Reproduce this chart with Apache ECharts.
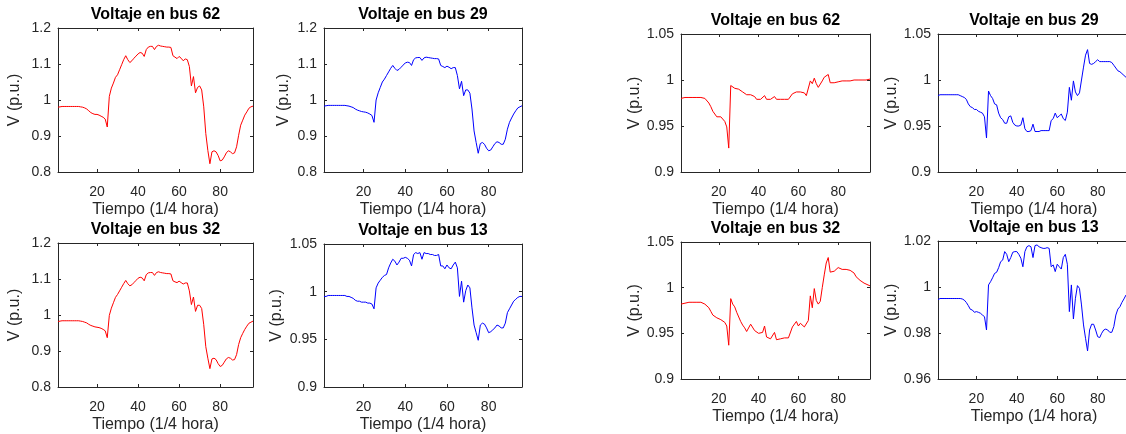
<!DOCTYPE html>
<html>
<head>
<meta charset="utf-8">
<title>Voltaje en buses</title>
<script src="https://cdn.jsdelivr.net/npm/echarts@6/dist/echarts.min.js"></script>
<style>
    html, body { margin: 0; padding: 0; background: #fff; }
    #chart { width: 1126px; height: 434px; }
</style>
</head>
<body>
<div id="chart"></div>
<script>
// eje x: tiempo en cuartos de hora (1..96)
var xTicks = [20, 40, 60, 80];
var yTicksWide = [0.8, 0.9, 1, 1.1, 1.2];
var yTicksMid = [0.9, 0.95, 1, 1.05];
var yTicksNarrow = [0.96, 0.98, 1, 1.02];

// caso izquierdo
var v62a = [0.980, 0.981, 0.982, 0.982, 0.982, 0.982, 0.982, 0.982, 0.982, 0.982, 0.982, 0.981, 0.980, 0.978,
    0.975, 0.970, 0.965, 0.962, 0.960, 0.960, 0.958, 0.955, 0.952, 0.947,
    0.925,
    1.010, 1.033, 1.047, 1.063, 1.070, 1.084, 1.098, 1.112, 1.123, 1.112,
    1.104, 1.109, 1.116, 1.122, 1.128, 1.132, 1.130, 1.121, 1.140, 1.147,
    1.149, 1.149, 1.140, 1.149, 1.152, 1.150, 1.149, 1.148, 1.147, 1.147, 1.146,
    1.123, 1.119, 1.115, 1.121, 1.116, 1.109, 1.114, 1.112, 1.093,
    1.039, 1.065, 1.020, 1.035, 1.039, 1.028, 0.981, 0.907, 0.860, 0.823,
    0.856, 0.859, 0.856, 0.846, 0.831, 0.833, 0.842, 0.853, 0.859, 0.856, 0.851, 0.853,
    0.870, 0.902, 0.930, 0.944, 0.958, 0.967, 0.977, 0.981, 0.983];
var v29a = [0.983, 0.984, 0.985, 0.985, 0.985, 0.985, 0.985, 0.985, 0.985, 0.985, 0.985, 0.984, 0.983, 0.981,
    0.979, 0.975, 0.972, 0.970, 0.968, 0.967, 0.966, 0.964, 0.961, 0.957,
    0.938,
    1.000, 1.020, 1.035, 1.050, 1.058, 1.068, 1.078, 1.088, 1.096, 1.088,
    1.082, 1.085, 1.091, 1.097, 1.103, 1.105, 1.104, 1.096, 1.112, 1.117,
    1.118, 1.118, 1.110, 1.117, 1.119, 1.118, 1.117, 1.116, 1.115, 1.115, 1.114,
    1.096, 1.093, 1.090, 1.094, 1.091, 1.087, 1.090, 1.090, 1.068,
    1.031, 1.052, 1.012, 1.028, 1.028, 1.019, 0.975, 0.914, 0.882, 0.852,
    0.879, 0.882, 0.877, 0.866, 0.859, 0.861, 0.870, 0.879, 0.884, 0.882, 0.877, 0.877,
    0.891, 0.919, 0.938, 0.950, 0.961, 0.970, 0.978, 0.981, 0.984];
var v32a = [0.982, 0.983, 0.984, 0.984, 0.984, 0.984, 0.984, 0.984, 0.984, 0.984, 0.984, 0.983, 0.982, 0.980,
    0.978, 0.974, 0.971, 0.969, 0.967, 0.966, 0.965, 0.963, 0.960, 0.956,
    0.937,
    0.999, 1.019, 1.034, 1.049, 1.057, 1.067, 1.077, 1.087, 1.096, 1.087,
    1.081, 1.084, 1.090, 1.096, 1.102, 1.105, 1.103, 1.095, 1.112, 1.117,
    1.118, 1.118, 1.110, 1.118, 1.120, 1.118, 1.117, 1.116, 1.115, 1.115, 1.114,
    1.095, 1.092, 1.090, 1.094, 1.090, 1.086, 1.089, 1.089, 1.067,
    1.029, 1.050, 1.010, 1.027, 1.027, 1.018, 0.973, 0.912, 0.880, 0.851,
    0.878, 0.880, 0.876, 0.865, 0.857, 0.860, 0.869, 0.878, 0.882, 0.880, 0.875, 0.876,
    0.890, 0.918, 0.937, 0.949, 0.960, 0.969, 0.977, 0.980, 0.983];
var v13a = [0.995, 0.995, 0.996, 0.996, 0.996, 0.996, 0.996, 0.996, 0.996, 0.996, 0.996, 0.995, 0.995, 0.994,
    0.993, 0.991, 0.990, 0.990, 0.989, 0.989, 0.989, 0.988, 0.988, 0.987,
    0.982,
    1.004, 1.009, 1.012, 1.015, 1.017, 1.018, 1.025, 1.030, 1.034, 1.032,
    1.028, 1.031, 1.035, 1.035, 1.036, 1.035, 1.033, 1.027, 1.039, 1.041,
    1.040, 1.041, 1.034, 1.041, 1.040, 1.040, 1.039, 1.039, 1.038, 1.038, 1.039,
    1.027, 1.027, 1.024, 1.028, 1.025, 1.024, 1.028, 1.031, 1.025,
    0.995, 1.011, 0.989, 1.001, 1.007, 1.004, 0.983, 0.965, 0.957, 0.949,
    0.965, 0.967, 0.966, 0.962, 0.957, 0.958, 0.960, 0.962, 0.965, 0.964, 0.962, 0.962,
    0.967, 0.978, 0.982, 0.986, 0.990, 0.992, 0.994, 0.995, 0.995];

// caso derecho
var v62b = [0.980, 0.980, 0.981, 0.981, 0.981, 0.981, 0.981, 0.981, 0.981, 0.981, 0.981, 0.981, 0.980, 0.979,
    0.975, 0.971, 0.966, 0.964, 0.960, 0.962, 0.960, 0.958, 0.955, 0.949,
    0.926,
    0.994, 0.992, 0.991, 0.991, 0.990, 0.988, 0.987, 0.986, 0.984, 0.982,
    0.984, 0.985, 0.982, 0.979, 0.979, 0.979, 0.980, 0.983, 0.979, 0.979,
    0.979, 0.979, 0.982, 0.979, 0.979, 0.979, 0.979, 0.979, 0.979, 0.979, 0.979,
    0.985, 0.986, 0.987, 0.985, 0.987, 0.987, 0.986, 0.983, 0.982,
    0.999, 0.996, 1.002, 0.996, 0.992, 0.994, 0.999, 1.003, 1.004, 1.006,
    0.997, 0.997, 0.997, 0.997, 0.998, 0.999, 0.999, 0.997, 0.999, 0.999, 0.999, 0.999,
    1.000, 1.000, 1.000, 1.000, 1.000, 1.000, 1.000, 1.000, 1.001];
var v29b = [0.983, 0.984, 0.984, 0.984, 0.984, 0.984, 0.984, 0.984, 0.984, 0.984, 0.984, 0.983, 0.982, 0.981,
    0.979, 0.974, 0.971, 0.970, 0.968, 0.968, 0.966, 0.965, 0.964, 0.960,
    0.937,
    0.988, 0.983, 0.980, 0.974, 0.973, 0.964, 0.959, 0.957, 0.953, 0.953,
    0.960, 0.961, 0.954, 0.951, 0.950, 0.950, 0.951, 0.959, 0.947, 0.944,
    0.944, 0.945, 0.952, 0.944, 0.944, 0.944, 0.945, 0.945, 0.945, 0.945, 0.945,
    0.956, 0.958, 0.964, 0.959, 0.961, 0.963, 0.958, 0.956, 0.965,
    0.992, 0.978, 0.999, 0.987, 0.983, 0.986, 1.000, 1.014, 1.027, 1.033,
    1.018, 1.017, 1.018, 1.020, 1.022, 1.020, 1.020, 1.020, 1.020, 1.020, 1.020, 1.019,
    1.016, 1.013, 1.010, 1.009, 1.007, 1.005, 1.003, 1.003, 1.002];
var v32b = [0.982, 0.983, 0.983, 0.984, 0.984, 0.984, 0.984, 0.984, 0.984, 0.984, 0.984, 0.983, 0.982, 0.980,
    0.978, 0.974, 0.970, 0.969, 0.967, 0.967, 0.965, 0.964, 0.962, 0.958,
    0.937,
    0.988, 0.982, 0.979, 0.973, 0.972, 0.963, 0.959, 0.956, 0.952, 0.953,
    0.960, 0.960, 0.953, 0.951, 0.950, 0.950, 0.951, 0.958, 0.946, 0.944,
    0.944, 0.945, 0.951, 0.943, 0.944, 0.944, 0.945, 0.945, 0.945, 0.945, 0.945,
    0.957, 0.958, 0.963, 0.958, 0.961, 0.962, 0.957, 0.955, 0.964,
    0.991, 0.978, 0.999, 0.986, 0.982, 0.985, 1.000, 1.014, 1.027, 1.033,
    1.017, 1.017, 1.018, 1.020, 1.022, 1.020, 1.020, 1.020, 1.020, 1.020, 1.019, 1.018,
    1.016, 1.012, 1.010, 1.008, 1.007, 1.005, 1.003, 1.003, 1.002];
var v13b = [0.9945, 0.995, 0.995, 0.995, 0.995, 0.995, 0.995, 0.995, 0.995, 0.995, 0.995, 0.995, 0.9948, 0.9943,
    0.9933, 0.9919, 0.9903, 0.990, 0.989, 0.9893, 0.989, 0.9886, 0.9878, 0.9871,
    0.9813,
    1.0009, 1.0023, 1.004, 1.0059, 1.0064, 1.0084, 1.011, 1.0117, 1.0154, 1.0142,
    1.011, 1.0128, 1.0151, 1.0154, 1.0154, 1.0142, 1.0125, 1.0088, 1.0154, 1.0175,
    1.018, 1.0175, 1.0128, 1.018, 1.0183, 1.0175, 1.0171, 1.0168, 1.0168, 1.0171, 1.0168,
    1.0088, 1.0096, 1.0067, 1.0099, 1.0088, 1.0078, 1.0128, 1.0142, 1.0099,
    0.9893, 1.0009, 0.9861, 0.9951, 1.0006, 0.9994, 0.9922, 0.9835, 0.9777, 0.9722,
    0.9813, 0.9838, 0.9838, 0.9813, 0.9784, 0.978, 0.9799, 0.9813, 0.9817, 0.9813, 0.9803, 0.9803,
    0.9828, 0.9878, 0.9904, 0.9914, 0.9933, 0.9948, 0.9965, 0.997, 0.9972];

var FONT = '"Liberation Sans", Arial, Helvetica, sans-serif';
var AXIS_COLOR = '#262626';

// paneles: [left, top, width, height] en px
var panels = [
    { title: 'Voltaje en bus 62', data: v62a, color: '#ff0000', yTicks: yTicksWide, box: [58, 28, 195, 144], yGap: 35 },
    { title: 'Voltaje en bus 29', data: v29a, color: '#0000ff', yTicks: yTicksWide, box: [324, 28, 198, 144], yGap: 32 },
    { title: 'Voltaje en bus 32', data: v32a, color: '#ff0000', yTicks: yTicksWide, box: [58, 243, 195, 144], yGap: 35 },
    { title: 'Voltaje en bus 13', data: v13a, color: '#0000ff', yTicks: yTicksMid, box: [324, 244, 198, 143], yGap: 39 },
    { title: 'Voltaje en bus 62', data: v62b, color: '#ff0000', yTicks: yTicksMid, box: [681, 34, 189, 138], yGap: 37 },
    { title: 'Voltaje en bus 29', data: v29b, color: '#0000ff', yTicks: yTicksMid, box: [938, 34, 192, 138], yGap: 37 },
    { title: 'Voltaje en bus 32', data: v32b, color: '#ff0000', yTicks: yTicksMid, box: [681, 242, 189, 137], yGap: 37 },
    { title: 'Voltaje en bus 13', data: v13b, color: '#0000ff', yTicks: yTicksNarrow, box: [938, 241, 192, 138], yGap: 37 }
];

function fmtTick(v) {
    return String(+v.toFixed(4));
}

// mini extend (sin jQuery)
function extend(a, b) {
    for (var key in b) { a[key] = b[key]; }
    return a;
}

function buildOption() {
    var option = {
        animation: false,
        backgroundColor: '#ffffff',
        title: [],
        grid: [],
        xAxis: [],
        yAxis: [],
        series: []
    };

    for (var i = 0; i < panels.length; i++) {
        var p = panels[i];
        var b = p.box;
        var yMin = p.yTicks[0];
        var yMax = p.yTicks[p.yTicks.length - 1];

        option.title.push({
            text: p.title,
            left: b[0] + b[2] / 2,
            top: b[1] - 21,
            textAlign: 'center',
            padding: 0,
            textStyle: { fontFamily: FONT, fontSize: 16, fontWeight: 'bold', color: '#000' }
        });

        option.grid.push({
            left: b[0], top: b[1], width: b[2], height: b[3],
            containLabel: false,
            outerBoundsMode: 'none',
            show: false
        });

        var tickStyle = { show: true, inside: true, length: 3, lineStyle: { color: AXIS_COLOR, width: 1 } };
        var lineStyle = { show: true, onZero: false, lineStyle: { color: AXIS_COLOR, width: 1 } };

        // eje inferior con etiquetas
        option.xAxis.push({
            type: 'value', gridIndex: i, position: 'bottom',
            min: 1, max: 96,
            name: 'Tiempo (1/4 hora)', nameLocation: 'middle', nameGap: 30,
            nameTextStyle: { fontFamily: FONT, fontSize: 16, color: AXIS_COLOR },
            axisLine: lineStyle,
            axisTick: extend({ customValues: xTicks }, tickStyle),
            axisLabel: { customValues: xTicks, margin: 13, fontFamily: FONT, fontSize: 14, color: AXIS_COLOR },
            splitLine: { show: false }
        });
        // eje superior (solo marcas)
        option.xAxis.push({
            type: 'value', gridIndex: i, position: 'top',
            min: 1, max: 96,
            axisLine: lineStyle,
            axisTick: extend({ customValues: xTicks }, tickStyle),
            axisLabel: { show: false },
            splitLine: { show: false }
        });

        option.yAxis.push({
            type: 'value', gridIndex: i, position: 'left',
            min: yMin, max: yMax,
            name: 'V (p.u.)', nameLocation: 'middle', nameGap: p.yGap,
            nameTextStyle: { fontFamily: FONT, fontSize: 16, color: AXIS_COLOR },
            axisLine: lineStyle,
            axisTick: extend({ customValues: p.yTicks }, tickStyle),
            axisLabel: { customValues: p.yTicks, margin: 7, fontFamily: FONT, fontSize: 14, color: AXIS_COLOR, formatter: fmtTick },
            splitLine: { show: false }
        });
        option.yAxis.push({
            type: 'value', gridIndex: i, position: 'right',
            min: yMin, max: yMax,
            axisLine: lineStyle,
            axisTick: extend({ customValues: p.yTicks }, tickStyle),
            axisLabel: { show: false },
            splitLine: { show: false }
        });

        var pts = [];
        for (var k = 0; k < p.data.length; k++) {
            pts.push([k + 1, p.data[k]]);
        }
        option.series.push({
            type: 'line',
            xAxisIndex: i * 2,
            yAxisIndex: i * 2,
            data: pts,
            showSymbol: false,
            symbol: 'none',
            lineStyle: { color: p.color, width: 1 },
            itemStyle: { color: p.color },
            clip: true
        });
    }
    return option;
}

var chart = echarts.init(document.getElementById('chart'), null, { renderer: 'canvas' });
chart.setOption(buildOption());
</script>
</body>
</html>
